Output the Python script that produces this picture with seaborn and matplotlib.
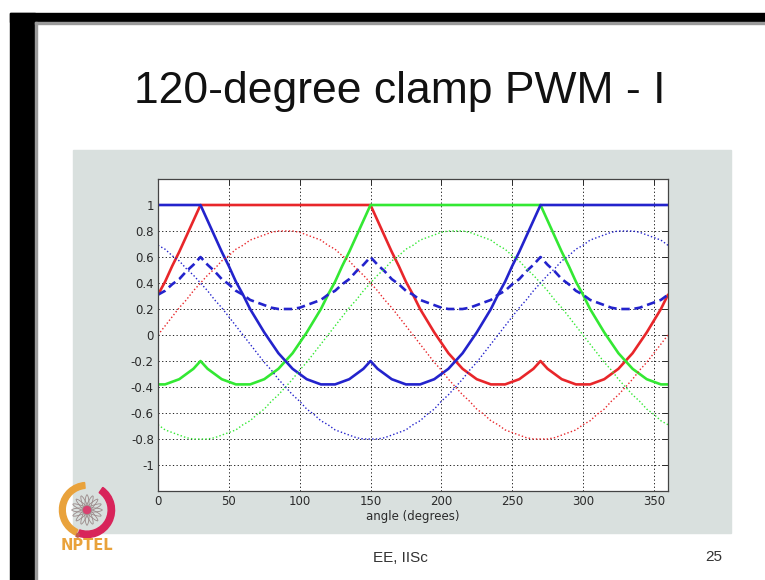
# 120-degree clamp PWM slide recreation
import matplotlib
matplotlib.use("Agg")
import matplotlib.pyplot as plt
from matplotlib.patches import Rectangle, Wedge, Circle, Ellipse
import pandas as pd
import seaborn as sns

# angle samples (degrees), one row = 30 degrees
angle = [0, 5, 10, 15, 20, 25,
         30, 35, 40, 45, 50, 55,
         60, 65, 70, 75, 80, 85,
         90, 95, 100, 105, 110, 115,
         120, 125, 130, 135, 140, 145,
         150, 155, 160, 165, 170, 175,
         180, 185, 190, 195, 200, 205,
         210, 215, 220, 225, 230, 235,
         240, 245, 250, 255, 260, 265,
         270, 275, 280, 285, 290, 295,
         300, 305, 310, 315, 320, 325,
         330, 335, 340, 345, 350, 355,
         360]

# sinusoidal references (dotted)
ref_a = [0.00, 0.07, 0.14, 0.21, 0.27, 0.34,
         0.40, 0.46, 0.51, 0.57, 0.61, 0.66,
         0.69, 0.73, 0.75, 0.77, 0.79, 0.80,
         0.80, 0.80, 0.79, 0.77, 0.75, 0.73,
         0.69, 0.66, 0.61, 0.57, 0.51, 0.46,
         0.40, 0.34, 0.27, 0.21, 0.14, 0.07,
         0.00, -0.07, -0.14, -0.21, -0.27, -0.34,
         -0.40, -0.46, -0.51, -0.57, -0.61, -0.66,
         -0.69, -0.73, -0.75, -0.77, -0.79, -0.80,
         -0.80, -0.80, -0.79, -0.77, -0.75, -0.73,
         -0.69, -0.66, -0.61, -0.57, -0.51, -0.46,
         -0.40, -0.34, -0.27, -0.21, -0.14, -0.07,
         0.00]
ref_b = [-0.69, -0.73, -0.75, -0.77, -0.79, -0.80,
         -0.80, -0.80, -0.79, -0.77, -0.75, -0.73,
         -0.69, -0.66, -0.61, -0.57, -0.51, -0.46,
         -0.40, -0.34, -0.27, -0.21, -0.14, -0.07,
         0.00, 0.07, 0.14, 0.21, 0.27, 0.34,
         0.40, 0.46, 0.51, 0.57, 0.61, 0.66,
         0.69, 0.73, 0.75, 0.77, 0.79, 0.80,
         0.80, 0.80, 0.79, 0.77, 0.75, 0.73,
         0.69, 0.66, 0.61, 0.57, 0.51, 0.46,
         0.40, 0.34, 0.27, 0.21, 0.14, 0.07,
         0.00, -0.07, -0.14, -0.21, -0.27, -0.34,
         -0.40, -0.46, -0.51, -0.57, -0.61, -0.66,
         -0.69]
ref_c = [0.69, 0.66, 0.61, 0.57, 0.51, 0.46,
         0.40, 0.34, 0.27, 0.21, 0.14, 0.07,
         0.00, -0.07, -0.14, -0.21, -0.27, -0.34,
         -0.40, -0.46, -0.51, -0.57, -0.61, -0.66,
         -0.69, -0.73, -0.75, -0.77, -0.79, -0.80,
         -0.80, -0.80, -0.79, -0.77, -0.75, -0.73,
         -0.69, -0.66, -0.61, -0.57, -0.51, -0.46,
         -0.40, -0.34, -0.27, -0.21, -0.14, -0.07,
         0.00, 0.07, 0.14, 0.21, 0.27, 0.34,
         0.40, 0.46, 0.51, 0.57, 0.61, 0.66,
         0.69, 0.73, 0.75, 0.77, 0.79, 0.80,
         0.80, 0.80, 0.79, 0.77, 0.75, 0.73,
         0.69]

# common-mode offset (dashed)
offset = [0.31, 0.34, 0.39, 0.43, 0.49, 0.54,
          0.60, 0.54, 0.49, 0.43, 0.39, 0.34,
          0.31, 0.27, 0.25, 0.23, 0.21, 0.20,
          0.20, 0.20, 0.21, 0.23, 0.25, 0.27,
          0.31, 0.34, 0.39, 0.43, 0.49, 0.54,
          0.60, 0.54, 0.49, 0.43, 0.39, 0.34,
          0.31, 0.27, 0.25, 0.23, 0.21, 0.20,
          0.20, 0.20, 0.21, 0.23, 0.25, 0.27,
          0.31, 0.34, 0.39, 0.43, 0.49, 0.54,
          0.60, 0.54, 0.49, 0.43, 0.39, 0.34,
          0.31, 0.27, 0.25, 0.23, 0.21, 0.20,
          0.20, 0.20, 0.21, 0.23, 0.25, 0.27,
          0.31]

# modulating signals (solid)
mod_a = [0.31, 0.41, 0.53, 0.64, 0.76, 0.88,
         1.00, 1.00, 1.00, 1.00, 1.00, 1.00,
         1.00, 1.00, 1.00, 1.00, 1.00, 1.00,
         1.00, 1.00, 1.00, 1.00, 1.00, 1.00,
         1.00, 1.00, 1.00, 1.00, 1.00, 1.00,
         1.00, 0.88, 0.76, 0.64, 0.53, 0.41,
         0.31, 0.20, 0.11, 0.02, -0.06, -0.14,
         -0.20, -0.26, -0.30, -0.34, -0.36, -0.38,
         -0.38, -0.38, -0.36, -0.34, -0.30, -0.26,
         -0.20, -0.26, -0.30, -0.34, -0.36, -0.38,
         -0.38, -0.38, -0.36, -0.34, -0.30, -0.26,
         -0.20, -0.14, -0.06, 0.02, 0.11, 0.20,
         0.31]
mod_b = [-0.38, -0.38, -0.36, -0.34, -0.30, -0.26,
         -0.20, -0.26, -0.30, -0.34, -0.36, -0.38,
         -0.38, -0.38, -0.36, -0.34, -0.30, -0.26,
         -0.20, -0.14, -0.06, 0.02, 0.11, 0.20,
         0.31, 0.41, 0.53, 0.64, 0.76, 0.88,
         1.00, 1.00, 1.00, 1.00, 1.00, 1.00,
         1.00, 1.00, 1.00, 1.00, 1.00, 1.00,
         1.00, 1.00, 1.00, 1.00, 1.00, 1.00,
         1.00, 1.00, 1.00, 1.00, 1.00, 1.00,
         1.00, 0.88, 0.76, 0.64, 0.53, 0.41,
         0.31, 0.20, 0.11, 0.02, -0.06, -0.14,
         -0.20, -0.26, -0.30, -0.34, -0.36, -0.38,
         -0.38]
mod_c = [1.00, 1.00, 1.00, 1.00, 1.00, 1.00,
         1.00, 0.88, 0.76, 0.64, 0.53, 0.41,
         0.31, 0.20, 0.11, 0.02, -0.06, -0.14,
         -0.20, -0.26, -0.30, -0.34, -0.36, -0.38,
         -0.38, -0.38, -0.36, -0.34, -0.30, -0.26,
         -0.20, -0.26, -0.30, -0.34, -0.36, -0.38,
         -0.38, -0.38, -0.36, -0.34, -0.30, -0.26,
         -0.20, -0.14, -0.06, 0.02, 0.11, 0.20,
         0.31, 0.41, 0.53, 0.64, 0.76, 0.88,
         1.00, 1.00, 1.00, 1.00, 1.00, 1.00,
         1.00, 1.00, 1.00, 1.00, 1.00, 1.00,
         1.00, 1.00, 1.00, 1.00, 1.00, 1.00,
         1.00]

x_ticks = [0, 50, 100, 150, 200, 250, 300, 350]
y_ticks = [-1, -0.8, -0.6, -0.4, -0.2, 0, 0.2, 0.4, 0.6, 0.8, 1]
y_labels = ["-1", "-0.8", "-0.6", "-0.4", "-0.2", "0", "0.2", "0.4", "0.6", "0.8", "1"]

df = pd.DataFrame({"angle": angle, "ref_a": ref_a, "ref_b": ref_b, "ref_c": ref_c,
                   "offset": offset, "mod_a": mod_a, "mod_b": mod_b, "mod_c": mod_c})

sns.set_style("white")
plt.rcParams["font.family"] = ["Liberation Sans", "DejaVu Sans"]

W, H = 765, 580
fig = plt.figure(figsize=(W / 100, H / 100), dpi=100)
fig.patch.set_facecolor("white")


def box(x0, y0, x1, y1):
    # pixel box (top-left origin) -> figure fraction rect
    return (x0 / W, 1 - y1 / H), (x1 - x0) / W, (y1 - y0) / H


# black frame of the video
for rect in [box(10, 13, W, 22), box(10, 13, 35, H)]:
    fig.patches.append(Rectangle(*rect, transform=fig.transFigure, color="black", zorder=-5))
fig.patches.append(Rectangle(*box(35, 22, W, 23.5), transform=fig.transFigure, color="#9a9a9a", zorder=-5))
fig.patches.append(Rectangle(*box(35, 22, 36.5, H), transform=fig.transFigure, color="#9a9a9a", zorder=-5))

# grey MATLAB figure panel
fig.patches.append(Rectangle(*box(73, 150, 731, 533), transform=fig.transFigure,
                             color="#d9e0de", zorder=-5))

fig.text(400 / W, 1 - 103 / H, "120-degree clamp PWM - I", fontsize=32, ha="center",
         va="baseline", color="#111111")

(l, b), w, h = box(158, 179, 668, 491)
ax = fig.add_axes([l, b, w, h])
ax.set_facecolor("white")

red, green, blue = "#e8262a", "#33e833", "#2323cc"
dot = (0, (1, 1.6))

sns.lineplot(data=df, x="angle", y="mod_a", ax=ax, color=red, linewidth=1.9)
sns.lineplot(data=df, x="angle", y="mod_b", ax=ax, color=green, linewidth=1.9)
sns.lineplot(data=df, x="angle", y="mod_c", ax=ax, color=blue, linewidth=1.9)
sns.lineplot(data=df, x="angle", y="offset", ax=ax, color=blue, linewidth=1.9, linestyle=(0, (3.2, 1.8)))
sns.lineplot(data=df, x="angle", y="ref_a", ax=ax, color=red, linewidth=1.0, linestyle=dot)
sns.lineplot(data=df, x="angle", y="ref_b", ax=ax, color=green, linewidth=1.0, linestyle=dot)
sns.lineplot(data=df, x="angle", y="ref_c", ax=ax, color=blue, linewidth=1.0, linestyle=dot)

ax.set_xlim(0, 360)
ax.set_ylim(-1.2, 1.2)
ax.set_xticks(x_ticks)
ax.set_yticks(y_ticks)
ax.set_yticklabels(y_labels)
ax.set_ylabel("")
ax.set_xlabel("angle (degrees)", fontsize=8.5, color="#2a2a2a", labelpad=1,
              family=["DejaVu Sans"])
ax.grid(True, color="#222222", linestyle=(0, (1.3, 2.4)), linewidth=0.7)
ax.tick_params(direction="in", length=4, width=0.7, colors="#2a2a2a", labelsize=8.5,
               top=True, right=True, pad=3)
for lab in ax.get_xticklabels() + ax.get_yticklabels():
    lab.set_family(["DejaVu Sans"])
for sp in ax.spines.values():
    sp.set_color("#444444")
    sp.set_linewidth(0.9)

# NPTEL logo
(l, b), w, h = box(58, 481, 116, 539)
lax = fig.add_axes([l, b, w, h])
lax.set_xlim(-1, 1)
lax.set_ylim(-1, 1)
lax.set_aspect("equal")
lax.axis("off")
lax.add_patch(Wedge((0, 0), 0.95, 95, 245, width=0.2, color="#e9a23b"))
lax.add_patch(Wedge((0, 0), 0.95, -110, 55, width=0.22, color="#d8245a"))
lax.add_patch(Wedge((0.03, -0.02), 0.98, 245, 250, width=0.12, color="#c25a4a"))
for k in range(8):
    lax.add_patch(Ellipse((0, 0), 1.05, 0.16, angle=k * 22.5, fill=False,
                          edgecolor="#9a8a8a", linewidth=0.6))
lax.add_patch(Circle((0, 0), 0.12, color="#d84070"))

fig.text(87 / W, 1 - 546 / H, "NPTEL", fontsize=10.5, fontweight="bold", ha="center",
         va="center", color="#e9a23b", family=["DejaVu Sans"])

fig.text(400 / W, 1 - 558 / H, "EE, IISc", fontsize=11, ha="center", va="center", color="#333333")
fig.text(714 / W, 1 - 557 / H, "25", fontsize=11, ha="center", va="center", color="#333333")

fig.savefig("out.png", dpi=100, facecolor=fig.get_facecolor())
